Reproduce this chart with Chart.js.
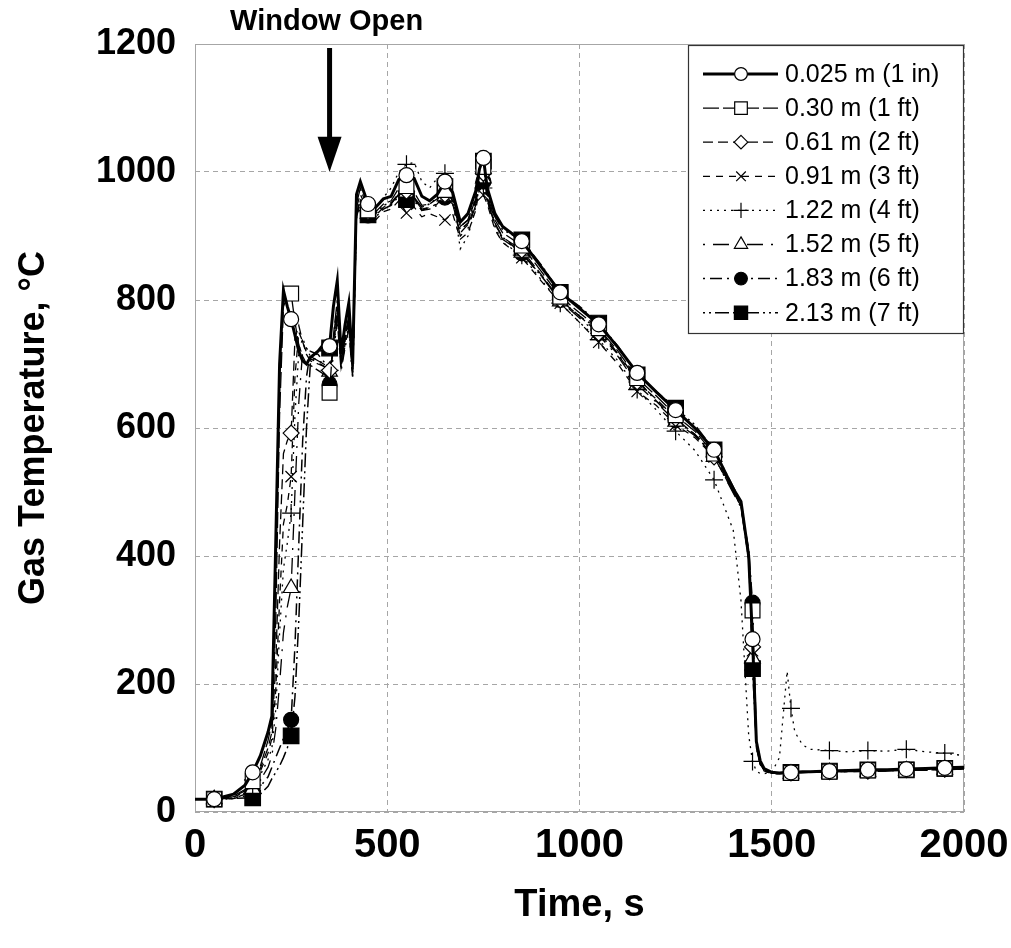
<!DOCTYPE html>
<html>
<head>
<meta charset="utf-8">
<script src="https://cdn.jsdelivr.net/npm/chart.js@4/dist/chart.umd.min.js"></script>
<style>
  html, body { margin: 0; padding: 0; background: #fff; }
  canvas { display: block; }
</style>
</head>
<body>
<canvas id="gasChart" width="1011" height="948"></canvas>
<script>
// time, s (shared by all the thermocouples)
const times = [
    0, 50, 100, 130, 150, 170, 190,
    200, 210, 220, 230, 240, 250, 260, 270, 280, 290, 300,
    320, 340, 350, 360, 370, 380, 390, 400, 410, 420, 430,
    450, 470, 490, 510, 530, 550, 570, 590, 610, 630, 650,
    670, 690, 710, 730, 740, 750, 760, 780, 800,
    850, 900, 950, 1000, 1050, 1100, 1150, 1200, 1250, 1300, 1350, 1400,
    1420, 1440, 1450, 1460, 1470, 1480, 1500, 1520, 1540,
    1550, 1560, 1580, 1600, 1650, 1700, 1750, 1800, 1850, 1900, 1950, 2000
];

// gas temperature, °C, one array per height below the ceiling
const t025 = [
    20, 20, 28, 42, 62, 88, 125,
    150, 420, 700, 815, 790, 770, 745, 720, 705, 700, 710,
    720, 735, 728, 790, 830, 715, 760, 795, 700, 965, 985,
    950, 945, 958, 962, 988, 995, 990, 962, 955, 965, 985,
    968, 922, 935, 970, 1005, 1022, 975, 935, 915,
    892, 852, 812, 787, 762, 726, 686, 656, 628, 600, 566, 505,
    485, 400, 270, 110, 80, 68, 62, 61, 62,
    62, 62, 63, 63, 64, 65, 66, 66, 67, 68, 69, 70
];
const t030 = [
    20, 20, 25, 35, 48, 72, 112,
    140, 300, 620, 790, 805, 810, 765, 730, 712, 700, 698,
    690, 682, 655, 745, 800, 700, 745, 775, 690, 950, 975,
    940, 938, 950, 955, 975, 978, 968, 948, 950, 958, 972,
    955, 915, 925, 958, 995, 1008, 965, 925, 905,
    885, 845, 805, 780, 756, 720, 678, 650, 620, 595, 560, 505,
    480, 400, 315, 110, 78, 66, 61, 60, 61,
    61, 62, 62, 63, 63, 64, 65, 65, 66, 67, 68, 69
];
const t061 = [
    20, 20, 24, 33, 50, 68, 100,
    125, 230, 420, 560, 580, 592, 740, 760, 735, 715, 705,
    700, 695, 690, 730, 790, 705, 740, 770, 690, 945, 965,
    938, 932, 945, 950, 968, 970, 960, 940, 945, 950, 965,
    950, 905, 918, 950, 985, 998, 958, 918, 898,
    878, 840, 800, 775, 748, 715, 672, 645, 615, 590, 555, 500,
    478, 395, 258, 105, 75, 65, 61, 60, 61,
    61, 61, 62, 62, 63, 64, 64, 65, 66, 66, 67, 68
];
const t091 = [
    20, 20, 23, 32, 48, 64, 92,
    115, 190, 330, 450, 480, 524, 680, 750, 735, 718, 708,
    702, 695, 685, 725, 785, 700, 735, 765, 685, 935, 958,
    930, 925, 938, 942, 955, 936, 945, 930, 935, 930, 925,
    935, 895, 905, 940, 975, 964, 950, 910, 890,
    866, 830, 795, 765, 734, 700, 657, 635, 605, 585, 555, 500,
    478, 395, 252, 100, 75, 64, 60, 60, 60,
    60, 61, 61, 62, 62, 63, 64, 64, 65, 66, 66, 67
];
const t122 = [
    20, 20, 22, 30, 42, 58, 82,
    100, 160, 280, 380, 420, 467, 620, 720, 740, 725, 712,
    705, 700, 690, 720, 780, 695, 730, 760, 680, 930, 950,
    940, 945, 960, 975, 1000, 1012, 1015, 985, 975, 990, 998,
    960, 880, 900, 945, 980, 975, 955, 915, 890,
    870, 832, 795, 765, 738, 705, 660, 628, 595, 565, 519, 440,
    330, 120, 79, 64, 60, 60, 62, 85, 220,
    162, 125, 105, 98, 96, 94, 96, 95, 98, 94, 92, 88
];
const t152 = [
    20, 20, 21, 28, 36, 50, 70,
    88, 130, 200, 280, 320, 350, 500, 640, 720, 725, 712,
    705, 698, 688, 720, 775, 695, 728, 760, 682, 935, 955,
    935, 930, 945, 950, 965, 968, 958, 942, 945, 950, 962,
    950, 900, 912, 948, 982, 990, 955, 918, 895,
    874, 838, 798, 772, 745, 712, 668, 640, 610, 588, 555, 498,
    476, 395, 240, 100, 74, 64, 60, 60, 60,
    60, 61, 61, 62, 62, 63, 63, 64, 65, 65, 66, 67
];
const t183 = [
    20, 20, 21, 25, 30, 40, 55,
    70, 85, 100, 115, 128, 144, 260, 420, 580, 680, 720,
    715, 700, 668, 715, 770, 690, 725, 755, 680, 930, 952,
    932, 930, 942, 948, 962, 962, 955, 940, 942, 948, 960,
    952, 910, 920, 955, 985, 985, 960, 920, 898,
    873, 838, 800, 775, 754, 716, 675, 642, 612, 590, 560, 502,
    480, 410, 327, 115, 78, 66, 61, 60, 61,
    61, 62, 62, 63, 63, 64, 65, 65, 66, 67, 67, 68
];
const t213 = [
    20, 20, 21, 22, 22, 28, 40,
    52, 62, 72, 85, 100, 119, 180, 300, 450, 600, 700,
    720, 722, 725, 740, 790, 700, 740, 770, 690, 935, 955,
    933, 935, 948, 952, 965, 957, 960, 945, 950, 960, 977,
    962, 915, 925, 960, 1000, 1017, 970, 930, 910,
    894, 855, 812, 790, 764, 728, 683, 657, 631, 605, 566, 508,
    485, 405, 224, 110, 76, 65, 61, 61, 62,
    62, 62, 63, 63, 64, 65, 66, 66, 66, 67, 68, 69
];

const labels = [
    '0.025 m (1 in)', '0.30 m (1 ft)', '0.61 m (2 ft)', '0.91 m (3 ft)',
    '1.22 m (4 ft)', '1.52 m (5 ft)', '1.83 m (6 ft)', '2.13 m (7 ft)'
];
const xTicks = [0, 500, 1000, 1500, 2000];
const yTicks = [0, 200, 400, 600, 800, 1000, 1200];
const windowOpenTime = 350;

const styles = [
    { values: t025, dash: [],                   width: 3,   marker: 'circle',   fill: '#fff', r: 7.5 },
    { values: t030, dash: [16, 4],              width: 1.3, marker: 'rect',     fill: '#fff', r: 10.5 },
    { values: t061, dash: [10, 5],              width: 1.3, marker: 'rectRot',  fill: '#fff', r: 8 },
    { values: t091, dash: [7, 6],               width: 1.3, marker: 'crossRot', fill: '#fff', r: 8 },
    { values: t122, dash: [2, 5],               width: 1.3, marker: 'cross',    fill: '#fff', r: 9 },
    { values: t152, dash: [2, 8, 16, 8],        width: 1.3, marker: 'triangle', fill: '#fff', r: 9 },
    { values: t183, dash: [2, 5, 12, 5],        width: 1.5, marker: 'circle',   fill: '#000', r: 7.5 },
    { values: t213, dash: [2, 4, 2, 4, 14, 4],  width: 1.5, marker: 'rect',     fill: '#000', r: 11 }
];

const GRID_COLOR = '#a6a6a6';
const FONT = '"Liberation Sans", Arial, sans-serif';

// markers only every 100 s, at 50, 150, 250 ...
const isMarked = ctx => ctx.raw && ctx.raw.x % 100 === 50;

const datasets = styles.map((s, i) => ({
    label: labels[i],
    data: times.map((t, k) => ({ x: t, y: s.values[k] })),
    borderColor: '#000',
    borderWidth: s.width,
    borderDash: s.dash,
    pointStyle: s.marker,
    pointBackgroundColor: s.fill,
    pointBorderColor: '#000',
    pointBorderWidth: 1.2,
    pointRadius: ctx => isMarked(ctx) ? s.r : 0,
    pointHoverRadius: ctx => isMarked(ctx) ? s.r : 0,
    tension: 0,
    fill: false
}));

function drawMarker(ctx, style, x, y, r, fill) {
    ctx.save();
    ctx.setLineDash([]);
    ctx.lineWidth = 1.2;
    ctx.strokeStyle = '#000';
    ctx.fillStyle = fill;
    ctx.beginPath();
    if (style === 'circle') {
        ctx.arc(x, y, r, 0, Math.PI * 2);
        ctx.fill(); ctx.stroke();
    } else if (style === 'rect') {
        const h = r * Math.SQRT1_2;
        ctx.rect(x - h, y - h, 2 * h, 2 * h);
        ctx.fill(); ctx.stroke();
    } else if (style === 'rectRot') {
        ctx.moveTo(x, y - r); ctx.lineTo(x + r, y); ctx.lineTo(x, y + r); ctx.lineTo(x - r, y);
        ctx.closePath(); ctx.fill(); ctx.stroke();
    } else if (style === 'triangle') {
        ctx.moveTo(x, y - r);
        ctx.lineTo(x + r * 0.866, y + r * 0.5);
        ctx.lineTo(x - r * 0.866, y + r * 0.5);
        ctx.closePath(); ctx.fill(); ctx.stroke();
    } else if (style === 'cross') {
        ctx.moveTo(x, y - r); ctx.lineTo(x, y + r);
        ctx.moveTo(x - r, y); ctx.lineTo(x + r, y);
        ctx.stroke();
    } else if (style === 'crossRot') {
        const d = r * Math.SQRT1_2;
        ctx.moveTo(x - d, y - d); ctx.lineTo(x + d, y + d);
        ctx.moveTo(x + d, y - d); ctx.lineTo(x - d, y + d);
        ctx.stroke();
    }
    ctx.restore();
}

const extras = {
    id: 'extras',
    beforeDatasetsDraw(chart) {
        const { ctx, chartArea: a } = chart;
        ctx.save();
        ctx.strokeStyle = GRID_COLOR;
        ctx.lineWidth = 1;
        ctx.setLineDash([]);
        ctx.strokeRect(a.left + 0.5, a.top + 0.5, a.right - a.left - 1, a.bottom - a.top - 1);
        ctx.restore();
    },
    afterDraw(chart) {
        const { ctx, chartArea: a, scales } = chart;
        ctx.save();

        // "Window Open" arrow
        const ax = scales.x.getPixelForValue(windowOpenTime);
        const tipY = scales.y.getPixelForValue(1000);
        const headY = scales.y.getPixelForValue(1055);
        ctx.fillStyle = '#000';
        ctx.strokeStyle = '#000';
        ctx.lineWidth = 5;
        ctx.beginPath();
        ctx.moveTo(ax, a.top + 4);
        ctx.lineTo(ax, headY + 2);
        ctx.stroke();
        ctx.beginPath();
        ctx.moveTo(ax - 12, headY);
        ctx.lineTo(ax + 12, headY);
        ctx.lineTo(ax, tipY);
        ctx.closePath();
        ctx.fill();
        ctx.font = 'bold 29px ' + FONT;
        ctx.textAlign = 'center';
        ctx.textBaseline = 'middle';
        ctx.fillText('Window Open', ax - 3, 22);

        // legend box
        const bx = 688, by = a.top + 1, bw = a.right - 1 - bx, bh = 288;
        ctx.fillStyle = '#fff';
        ctx.fillRect(bx, by, bw, bh);
        ctx.lineWidth = 1.2;
        ctx.strokeStyle = '#333';
        ctx.strokeRect(bx + 0.5, by + 0.5, bw, bh);

        ctx.font = '25px ' + FONT;
        ctx.textAlign = 'left';
        ctx.textBaseline = 'middle';
        styles.forEach((s, i) => {
            const y = by + 29 + i * 34.1;
            ctx.save();
            ctx.strokeStyle = '#000';
            ctx.lineWidth = s.width;
            ctx.setLineDash(s.dash);
            ctx.beginPath();
            ctx.moveTo(703, y);
            ctx.lineTo(778, y);
            ctx.stroke();
            ctx.restore();
            drawMarker(ctx, s.marker, 741, y, s.r * 0.85, s.fill);
            ctx.fillStyle = '#000';
            ctx.fillText(labels[i], 785, y + 1);
        });
        ctx.restore();
    }
};

new Chart(document.getElementById('gasChart'), {
    type: 'line',
    data: { datasets: datasets },
    options: {
        responsive: false,
        animation: false,
        events: [],
        layout: { padding: { top: 44, right: 47, left: 0, bottom: 0 } },
        plugins: {
            legend: { display: false },
            tooltip: { enabled: false }
        },
        scales: {
            x: {
                type: 'linear',
                min: 0,
                max: 2000,
                afterBuildTicks: s => { s.ticks = xTicks.map(v => ({ value: v })); },
                afterFit: s => { s.height = 136; s.paddingLeft = 0; s.paddingRight = 0; },
                grid: { color: GRID_COLOR, drawTicks: false },
                border: { display: false, dash: [5, 4] },
                ticks: {
                    color: '#000',
                    padding: 10,
                    maxRotation: 0,
                    callback: v => String(v),
                    font: { family: FONT, weight: 'bold', size: 40 }
                },
                title: {
                    display: true,
                    text: 'Time, s',
                    color: '#000',
                    padding: { top: 0, bottom: 20 },
                    font: { family: FONT, weight: 'bold', size: 38 }
                }
            },
            y: {
                min: 0,
                max: 1200,
                afterBuildTicks: s => { s.ticks = yTicks.map(v => ({ value: v })); },
                afterFit: s => { s.width = 195; s.paddingTop = 0; s.paddingBottom = 0; },
                grid: { color: GRID_COLOR, drawTicks: false },
                border: { display: false, dash: [5, 4] },
                ticks: {
                    color: '#000',
                    padding: 19,
                    callback: v => String(v),
                    font: { family: FONT, weight: 'bold', size: 36 }
                },
                title: {
                    display: true,
                    text: 'Gas Temperature, °C',
                    color: '#000',
                    padding: { top: 12, bottom: 0 },
                    font: { family: FONT, weight: 'bold', size: 36 }
                }
            }
        }
    },
    plugins: [extras]
});
</script>
</body>
</html>
